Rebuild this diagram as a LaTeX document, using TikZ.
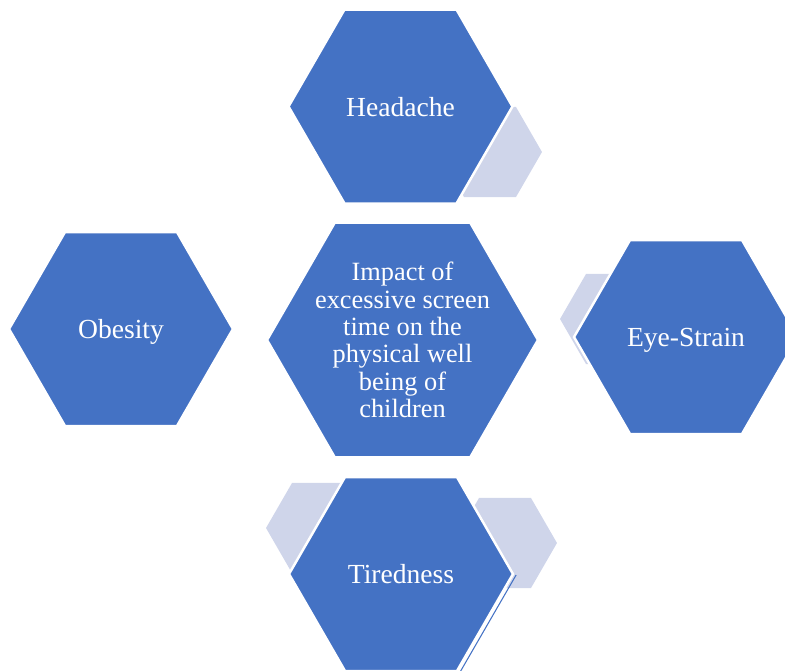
\documentclass[tikz,border=0pt]{standalone}
\usepackage{fontspec}
\setmainfont{Liberation Serif}
\usetikzlibrary{shapes.geometric,calc}
\definecolor{hexblue}{RGB}{68,114,196}
\definecolor{hexshade}{RGB}{207,213,234}
\tikzset{
    hexbig/.style={regular polygon, regular polygon sides=6, fill=hexblue, draw=white, line width=1.4pt, inner sep=0pt, minimum size=4.48cm, text=white, text depth=0pt, font=\fontsize{15.7}{18}\selectfont},
    hexsmall/.style={regular polygon, regular polygon sides=6, fill=hexshade, inner sep=0pt, minimum size=2.08cm}
}

\begin{document}
\begin{tikzpicture}[x=0.02cm, y=-0.02cm]
    \useasboundingbox (0,0) rectangle (785,670);

    % Kutite e zbehta prapa
    \node[hexsmall] (headshade) at (490,152) {};
    \node[hexsmall] (eyeshade) at (612,319) {};
    \node[hexsmall] (tiredshadeL) at (318,528) {};
    \node[hexsmall] (tiredshadeR) at (505,543) {};

    % Gjashtekendeshi qendror
    \node[hexbig, minimum size=5.42cm, inner sep=-12pt, text depth=, align=center, font=\fontsize{15}{15.6}\selectfont] (impact) at (402.5,340) {
        Impact of\\excessive screen\\time on the\\physical well\\being of\\children
    };

    % Gjashtekendeshat perreth
    \node[hexbig] (headache) at (400.5,106.5) {Headache};
    \node[hexbig] (obesity) at (121,329) {Obesity};
    \node[hexbig] (eyestrain) at (686,337) {Eye-Strain};
    \node[hexbig] (tiredness) at (401,574) {Tiredness};

    % Vija e holle
    \draw[hexblue, line width=0.6pt] ($(tiredness.0)+(1.7,1)$) -- ($(tiredness.300)+(1.7,1)$);
\end{tikzpicture}
\end{document}
